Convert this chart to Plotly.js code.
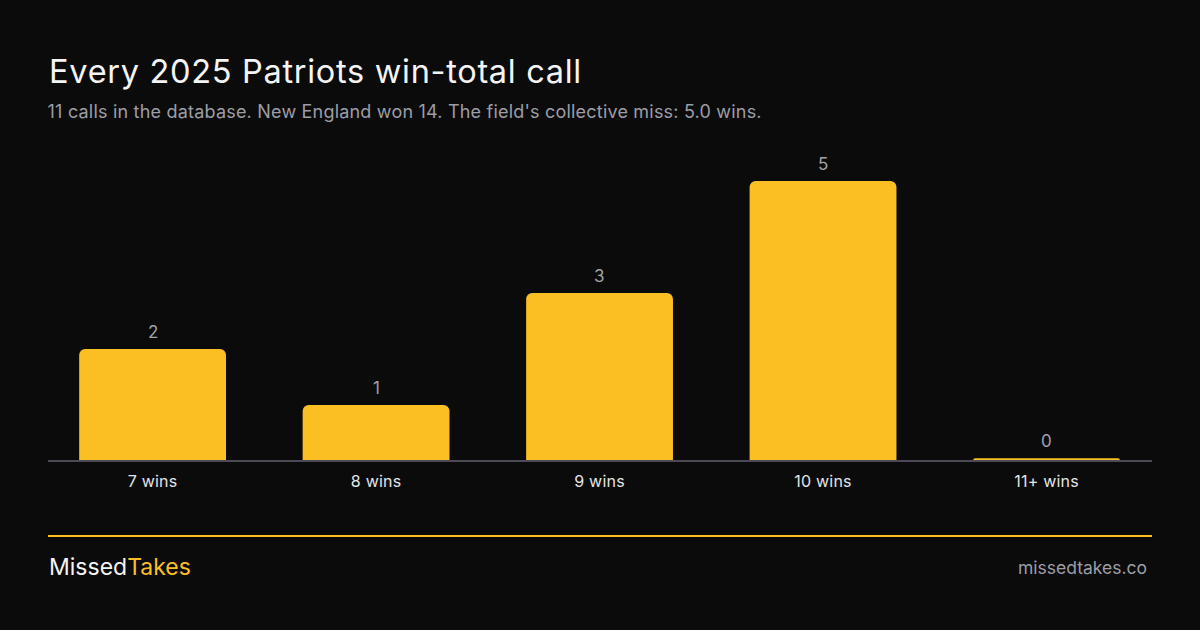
<!DOCTYPE html>
<html>
<head>
<meta charset="utf-8">
<script src="https://cdn.plot.ly/plotly-3.0.1.min.js"></script>
<style>
html,body{margin:0;padding:0;background:#0b0b0b;}
#chart{width:1200px;height:630px;}
g.annotation[data-index="0"] text{letter-spacing:0.7px;}
g.annotation[data-index="1"] text{letter-spacing:0.2px;}
.xtick text{letter-spacing:0.2px;}
</style>
</head>
<body>
<div id="chart"></div>
<script>
const categories = ["7 wins", "8 wins", "9 wins", "10 wins", "11+ wins"];
const calls = [2, 1, 3, 5, 0];
const titleText = "Every 2025 Patriots win-total call";
const subtitleText = "11 calls in the database. New England won 14. The field's collective miss: 5.0 wins.";
const brandA = "Missed";
const brandB = "Takes";
const siteText = "missedtakes.co";

const W = 1200, H = 630;
const M = {l: 48, r: 48, t: 140, b: 169};
const plotH = H - M.t - M.b;
const py = p => (H - M.b - p) / plotH; // pixel y -> paper y
const px = p => (p - M.l) / (W - M.l - M.r);

const FONT = "Inter, 'Noto Sans', sans-serif";
const AMBER = "#fbbf24";

// tiny visible stub so zero-value bars still show on the baseline
const barHeights = calls.map(v => Math.max(v, 0.05));

const trace = {
  type: "bar",
  x: categories,
  y: barHeights,
  marker: {color: AMBER, cornerradius: 6, line: {width: 0}},
  width: 0.657,
  hoverinfo: "skip"
};

const valueLabels = categories.map((c, i) => ({
  text: String(calls[i]), x: c, y: barHeights[i], xref: "x", yref: "y",
  xanchor: "center", yanchor: "middle", yshift: 17, showarrow: false,
  font: {family: FONT, size: 17, color: "#a1a1aa"}
}));

const layout = {
  width: W, height: H,
  paper_bgcolor: "#0b0b0b",
  plot_bgcolor: "#0b0b0b",
  margin: M,
  showlegend: false,
  font: {family: FONT},
  xaxis: {
    type: "category",
    range: [-0.468, 4.472],
    showgrid: false,
    zeroline: false,
    showline: false,
    ticks: "",
    tickfont: {family: FONT, size: 16, color: "#e4e4e7"},
    ticklabelstandoff: 9
  },
  yaxis: {
    range: [0, plotH / 56],
    showgrid: false,
    zeroline: false,
    showline: false,
    showticklabels: false,
    ticks: ""
  },
  shapes: [
    {type: "line", xref: "paper", yref: "paper", x0: 0, x1: 1, y0: py(461), y1: py(461),
     line: {color: "#4b4b55", width: 2}},
    {type: "line", xref: "paper", yref: "paper", x0: 0, x1: 1, y0: py(536), y1: py(536),
     line: {color: AMBER, width: 2}}
  ],
  annotations: [
    {text: titleText, xref: "paper", yref: "paper", x: px(59), y: py(71),
     xanchor: "left", yanchor: "middle", showarrow: false,
     font: {family: FONT, size: 32.5, color: "#f4f4f5"}},
    {text: subtitleText, xref: "paper", yref: "paper", x: px(54), y: py(111),
     xanchor: "left", yanchor: "middle", showarrow: false,
     font: {family: FONT, size: 18, color: "#9d9da6"}},
    {text: brandA + "<span style='color:" + AMBER + "'>" + brandB + "</span>",
     xref: "paper", yref: "paper", x: px(47), y: py(567),
     xanchor: "left", yanchor: "middle", showarrow: false,
     font: {family: FONT, size: 23, color: "#f4f4f5"}},
    {text: siteText, xref: "paper", yref: "paper", x: px(1149), y: py(567),
     xanchor: "right", yanchor: "middle", showarrow: false,
     font: {family: FONT, size: 17.5, color: "#9d9da6"}}
  ].concat(valueLabels)
};

Plotly.newPlot("chart", [trace], layout, {displayModeBar: false, staticPlot: true});
</script>
</body>
</html>
